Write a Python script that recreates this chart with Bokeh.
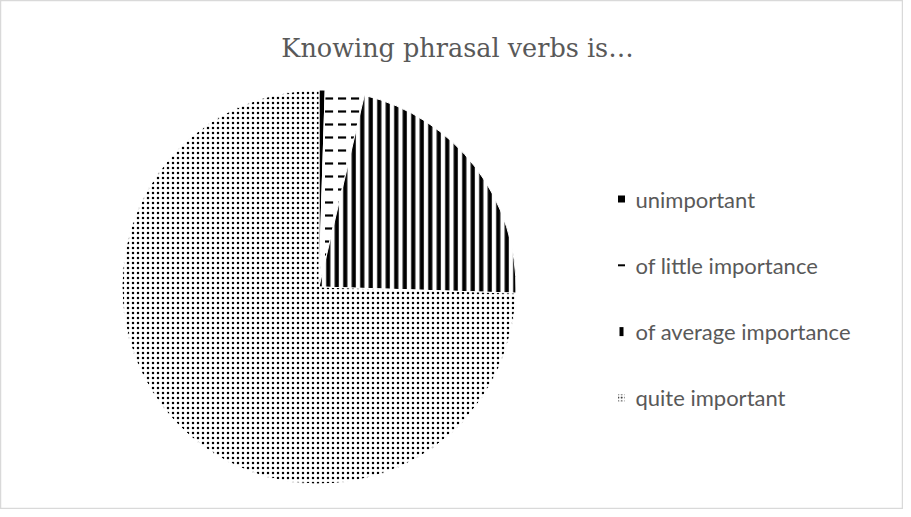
import math
from bokeh.plotting import figure
from bokeh.models import Range1d
from bokeh.core.properties import value
from bokeh.embed import file_html
from bokeh.resources import INLINE

title_text = "Knowing phrasal verbs is…"
categories = ["unimportant", "of little importance", "of average importance", "quite important"]
shares = [0.5, 3.2, 21.8, 74.5]
hatches = [" ", "horizontal_dash", "vertical_line", "dot"]
fills = ["black", "white", "white", "white"]

W, H = 903, 509
p = figure(width=W, height=H, output_backend="svg", toolbar_location=None,
           x_range=Range1d(0, W), y_range=Range1d(0, H), min_border=0)
p.axis.visible = False
p.grid.visible = False
p.outline_line_color = "#d9d9d9"
p.outline_line_width = 1.5
p.background_fill_color = "white"
p.border_fill_color = "white"


def hatch_kw(h, legend=False):
    kw = dict(hatch_color="black")
    if h == "horizontal_dash":
        kw.update(hatch_pattern="horizontal_dash", hatch_scale=13, hatch_weight=2.2)
    elif h == "vertical_line":
        kw.update(hatch_pattern="vertical_line", hatch_scale=8.5, hatch_weight=4.2)
    elif h == "dot":
        kw.update(hatch_pattern="dot", hatch_scale=5 if not legend else 3.5, hatch_weight=2.4 if not legend else 1.6)
    return kw


total = sum(shares)
starts, ends = [], []
cum = 0.0
for s in shares:
    starts.append(math.pi / 2 - 2 * math.pi * cum / total)
    cum += s
    ends.append(math.pi / 2 - 2 * math.pi * cum / total)

cx, cy, r = 318.5, 222.5, 197
for i in range(len(categories)):
    p.wedge(x=cx, y=cy, radius=r, start_angle=starts[i], end_angle=ends[i],
            direction="clock", fill_color=fills[i], line_color="white", line_width=1,
            **hatch_kw(hatches[i]))

# legend
lx, ly0, dy = 621, 310.5, 66.3
mk_w = [7, 7, 4, 7]
mk_h = [7, 2, 9, 7]
for i, c in enumerate(categories):
    y = ly0 - i * dy
    if hatches[i] == "dot":
        p.rect(x=lx, y=y, width=mk_w[i], height=mk_h[i], fill_color="white", line_color=None,
               **hatch_kw(hatches[i], legend=True))
    else:
        p.rect(x=lx, y=y, width=mk_w[i], height=mk_h[i], fill_color="black", line_color=None)
    p.text(x=lx + 14, y=y, text=[c], text_font=value("Lato"), text_font_size="22px",
           text_color="#595959", text_baseline="middle", text_align="left")

p.text(x=457, y=462, text=[title_text], text_font=value("DejaVu Serif"),
       text_font_size="25.5px", text_color="#595959", text_baseline="middle", text_align="center")

open("out.html", "w").write(file_html(p, INLINE))
